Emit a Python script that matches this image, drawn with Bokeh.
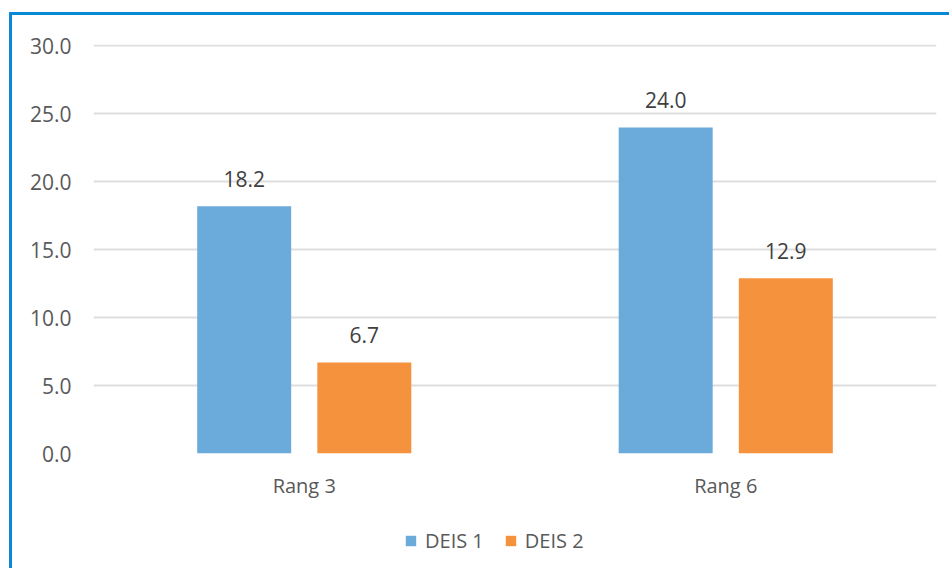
from bokeh.plotting import figure
from bokeh.layouts import column
from bokeh.models import ColumnDataSource, FactorRange, Legend, LegendItem, NumeralTickFormatter, FixedTicker, Range1d
from bokeh.transform import dodge
from bokeh.core.properties import value
from bokeh.embed import file_html
from bokeh.resources import INLINE

categories = ["Rang 3", "Rang 6"]
series_names = ["DEIS 1", "DEIS 2"]
deis1 = [18.2, 24.0]
deis2 = [6.7, 12.9]
y_ticks = [0, 5, 10, 15, 20, 25, 30]

colors = ["#6aabdc", "#f4923e"]
FONT = "Open Sans"
BORDER = "3px solid #0a88d8"

src = ColumnDataSource(dict(
    cat=categories,
    d1=deis1,
    d2=deis2,
    l1=[f"{v:.1f}" for v in deis1],
    l2=[f"{v:.1f}" for v in deis2],
))

p = figure(
    x_range=FactorRange(*categories, range_padding=0),
    y_range=(0, 30.1),
    width=940, height=500,
    output_backend="svg", toolbar_location=None,
    min_border_left=81, min_border_right=16, min_border_top=29, min_border_bottom=62,
)
p.styles = {"border-left": BORDER, "border-top": BORDER,
            "margin-left": "9px", "margin-top": "12px"}
p.outline_line_color = None
p.background_fill_color = "white"
p.border_fill_color = "white"

r1 = p.vbar(x=dodge("cat", -0.1425, range=p.x_range), top="d1", width=0.223, source=src,
            fill_color=colors[0], line_color=None)
r2 = p.vbar(x=dodge("cat", 0.1425, range=p.x_range), top="d2", width=0.223, source=src,
            fill_color=colors[1], line_color=None)

for xoff, col, lab in [(-0.1425, "d1", "l1"), (0.1425, "d2", "l2")]:
    p.text(x=dodge("cat", xoff, range=p.x_range), y=col, text=lab, source=src,
           text_font=value(FONT), text_font_size="21px", text_color="#404040",
           text_align="center", text_baseline="alphabetic", y_offset=-27)

p.yaxis.ticker = FixedTicker(ticks=y_ticks)
p.yaxis.formatter = NumeralTickFormatter(format="0.0")
for ax in (p.xaxis, p.yaxis):
    ax.axis_line_color = None
    ax.major_tick_line_color = None
    ax.minor_tick_line_color = None
    ax.major_tick_out = 0
    ax.major_tick_in = 0
    ax.major_label_text_font = FONT
    ax.major_label_text_color = "#595959"
p.yaxis.major_label_text_font_size = "21px"
p.xaxis.major_label_text_font_size = "20px"
p.yaxis.major_label_standoff = 22
p.xaxis.major_label_standoff = 18

p.xgrid.grid_line_color = None
p.ygrid.grid_line_color = "#dedede"
p.ygrid.grid_line_width = 2

# legend strip below the chart; its renderers are hidden, only the legend shows
p2 = figure(x_range=FactorRange(*categories, range_padding=0), y_range=Range1d(0, 30),
            width=940, height=56,
            output_backend="svg", toolbar_location=None,
            min_border_left=0, min_border_right=0, min_border_top=0, min_border_bottom=0)
p2.styles = {"border-left": BORDER, "margin-left": "9px"}
p2.axis.visible = False
p2.grid.grid_line_color = None
p2.outline_line_color = None
h1 = p2.vbar(x=dodge("cat", -0.1425, range=p2.x_range), top="d1", width=0.223, source=src,
             fill_color=colors[0], line_color=None, visible=False)
h2 = p2.vbar(x=dodge("cat", 0.1425, range=p2.x_range), top="d2", width=0.223, source=src,
             fill_color=colors[1], line_color=None, visible=False)
legend = Legend(items=[LegendItem(label=series_names[0], renderers=[h1]),
                       LegendItem(label=series_names[1], renderers=[h2])],
                orientation="horizontal", location=(311, 14),
                label_text_font=FONT, label_text_font_size="20px", label_text_color="#595959",
                glyph_width=13, glyph_height=13, spacing=20, label_standoff=8,
                inactive_fill_alpha=0,
                border_line_color=None, background_fill_alpha=0, padding=0, margin=0)
p2.add_layout(legend)

layout = column(p, p2, spacing=0)
open("out.html", "w").write(file_html(layout, INLINE))
